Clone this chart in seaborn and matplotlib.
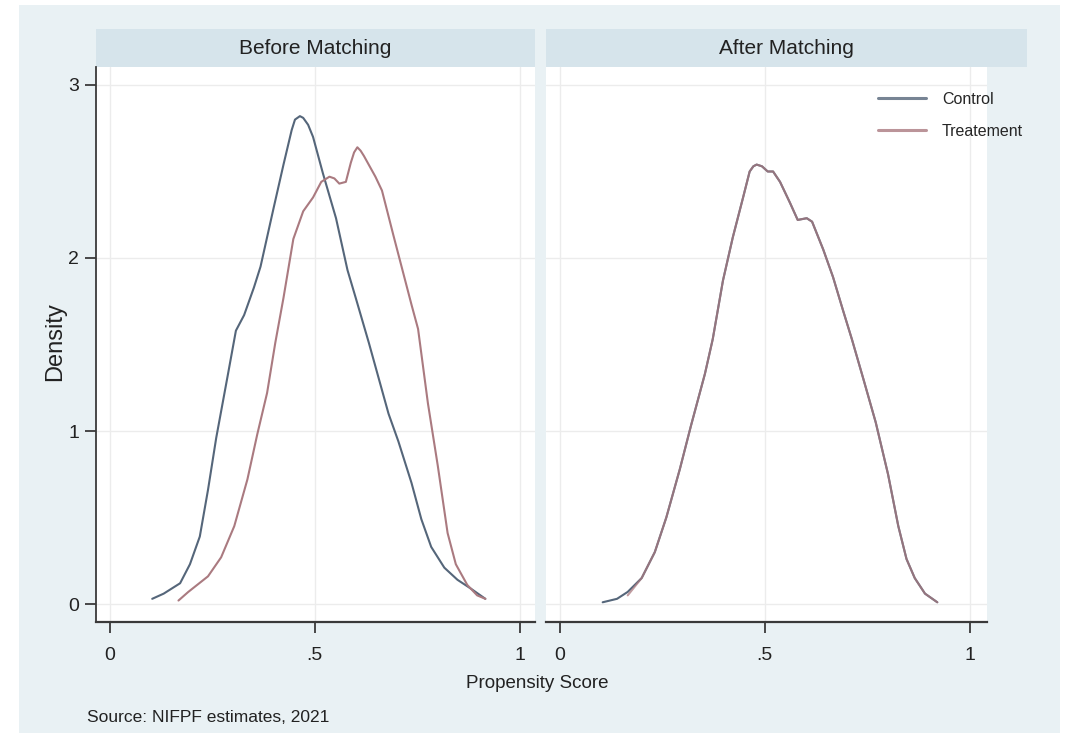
import numpy as np
import pandas as pd
import matplotlib
matplotlib.use("Agg")
import matplotlib.pyplot as plt
import seaborn as sns
from matplotlib.patches import Rectangle

# ---------------- data ----------------
panels = ["Before Matching", "After Matching"]
groups = ["Control", "Treatement"]

before_control_x = [.104, .132, .172, .196, .22, .24, .26, .288, .308, .328, .352, .368, .40, .424,
                    .444, .452, .464, .472, .484, .496, .52, .552, .58, .60, .632, .68, .704, .736,
                    .76, .784, .816, .848, .88, .916]
before_control_y = [.03, .06, .12, .23, .39, .66, .96, 1.32, 1.58, 1.67, 1.83, 1.95, 2.29, 2.54,
                    2.74, 2.80, 2.82, 2.81, 2.77, 2.70, 2.49, 2.23, 1.93, 1.77, 1.51, 1.10, .94, .70,
                    .49, .33, .21, .14, .09, .03]

before_treat_x = [.168, .192, .24, .272, .304, .336, .36, .384, .404, .424, .448, .472, .496, .516,
                  .536, .548, .56, .576, .588, .596, .604, .612, .62, .648, .664, .692, .736, .752,
                  .776, .80, .824, .844, .872, .896, .916]
before_treat_y = [.02, .07, .16, .27, .45, .72, .98, 1.22, 1.51, 1.77, 2.11, 2.27, 2.35, 2.44,
                  2.47, 2.46, 2.43, 2.44, 2.55, 2.61, 2.64, 2.62, 2.59, 2.47, 2.39, 2.13, 1.73, 1.59,
                  1.16, .80, .41, .23, .11, .05, .03]

after_control_x = [.105, .14, .166, .20, .232, .26, .293, .32, .354, .373, .398, .422, .447, .463,
                   .472, .48, .493, .507, .52, .537, .561, .58, .602, .615, .642, .666, .69, .712,
                   .74, .77, .80, .825, .845, .865, .89, .92]
after_control_y = [.01, .03, .07, .15, .30, .50, .78, 1.03, 1.33, 1.53, 1.87, 2.12, 2.35, 2.50,
                   2.53, 2.54, 2.53, 2.50, 2.50, 2.44, 2.32, 2.22, 2.23, 2.21, 2.05, 1.89, 1.70,
                   1.53, 1.30, 1.05, .75, .45, .26, .15, .06, .01]

after_treat_x = [.166, .20, .232, .26, .293, .32, .354, .373, .398, .422, .447, .463,
                 .472, .48, .493, .507, .52, .537, .561, .58, .602, .615, .642, .666, .69, .712,
                 .74, .77, .80, .825, .845, .865, .89, .92]
after_treat_y = [.05, .15, .30, .50, .78, 1.03, 1.33, 1.53, 1.87, 2.12, 2.35, 2.50,
                 2.53, 2.54, 2.53, 2.50, 2.50, 2.44, 2.32, 2.22, 2.23, 2.21, 2.05, 1.89, 1.70,
                 1.53, 1.30, 1.05, .75, .45, .26, .15, .06, .01]

x_ticks = [0, 0.5, 1]
x_tick_labels = ["0", ".5", "1"]
y_ticks = [0, 1, 2, 3]
y_tick_labels = ["0", "1", "2", "3"]

def frame(xs, ys, group, panel):
    return pd.DataFrame({"score": xs, "density": ys, "group": group, "panel": panel})

df = pd.concat([
    frame(before_control_x, before_control_y, groups[0], panels[0]),
    frame(before_treat_x, before_treat_y, groups[1], panels[0]),
    frame(after_control_x, after_control_y, groups[0], panels[1]),
    frame(after_treat_x, after_treat_y, groups[1], panels[1]),
], ignore_index=True)

# ---------------- style ----------------
sns.set_style("white")
plt.rcParams["font.family"] = ["Liberation Sans", "DejaVu Sans"]
plt.rcParams["lines.solid_joinstyle"] = "round"

W, H = 1071, 738
fig = plt.figure(figsize=(W / 100, H / 100), dpi=100, facecolor="white")

BG = "#e9f1f4"
HEADER = "#d6e4eb"
AXCOL = "#3a3a3a"
GRID = "#ececec"
TXT = "#222222"
palette = {"Control": "#55667a", "Treatement": "#aa7a80"}

def px_rect(x0, y0, x1, y1):
    return (x0 / W, 1 - y1 / H, (x1 - x0) / W, (y1 - y0) / H)

# outer background
fig.patches.append(Rectangle((19 / W, 1 - 733 / H), (1060 - 19) / W, (733 - 5) / H,
                             transform=fig.transFigure, facecolor=BG, edgecolor="none",
                             zorder=-10))

# headers
header_boxes = [(96, 29, 535, 67), (546, 29, 1027, 67)]
for (x0, y0, x1, y1), title in zip(header_boxes, panels):
    fig.patches.append(Rectangle((x0 / W, 1 - y1 / H), (x1 - x0) / W, (y1 - y0) / H,
                                 transform=fig.transFigure, facecolor=HEADER,
                                 edgecolor="none", zorder=-5))
    fig.text((x0 + x1) / 2 / W, 1 - (y0 + y1) / 2 / H, title, ha="center", va="center",
             fontsize=15, color=TXT)

ax_boxes = [(96, 67, 535, 622), (546, 67, 987, 622)]
axes = []
for i, ((x0, y0, x1, y1), panel) in enumerate(zip(ax_boxes, panels)):
    ax = fig.add_axes(px_rect(x0, y0, x1, y1))
    ax.set_zorder(5)
    ax.set_facecolor("white")
    sub = df[df["panel"] == panel]
    if panel == "After Matching":
        sns.lineplot(data=sub[sub["group"] == "Control"], x="score", y="density",
                     color=palette["Control"], lw=1.5, ax=ax, sort=False, label="Control")
        sns.lineplot(data=sub[sub["group"] == "Treatement"], x="score", y="density",
                     color=palette["Treatement"], lw=1.5, alpha=0.75, ax=ax, sort=False,
                     label="Treatement")
    else:
        sns.lineplot(data=sub, x="score", y="density", hue="group", palette=palette,
                     lw=1.5, ax=ax, sort=False, legend=False)
    ax.set_xlim(-0.033, 1.037 if i == 0 else 1.041)
    ax.set_ylim(-0.104, 3.104)
    ax.set_xticks(x_ticks)
    ax.set_xticklabels(x_tick_labels)
    ax.set_yticks(y_ticks)
    ax.grid(True, color=GRID, lw=1.0)
    ax.set_axisbelow(True)
    ax.set_xlabel("")
    ax.set_ylabel("")
    for s in ["top", "right"]:
        ax.spines[s].set_visible(False)
    ax.spines["bottom"].set_color(AXCOL)
    ax.spines["bottom"].set_linewidth(1.6)
    ax.tick_params(axis="x", direction="out", length=8, width=1.3, color=AXCOL,
                   labelsize=14, labelcolor=TXT, pad=10, bottom=True)
    if i == 0:
        ax.set_yticklabels(y_tick_labels)
        ax.spines["left"].set_color(AXCOL)
        ax.spines["left"].set_linewidth(1.3)
        ax.tick_params(axis="y", direction="out", length=8, width=1.3, color=AXCOL,
                       labelsize=14, labelcolor=TXT, pad=4, left=True)
    else:
        ax.spines["left"].set_visible(False)
        ax.tick_params(axis="y", left=False, labelleft=False)
    axes.append(ax)

# legend in right panel
leg = axes[1].legend(loc="upper left", bbox_to_anchor=(870 / W, 1 - 84 / H),
                     bbox_transform=fig.transFigure, frameon=False, fontsize=11.5,
                     handlelength=3.0, handletextpad=1.0, labelspacing=1.05, borderpad=0)
for line in leg.get_lines():
    line.set_linewidth(2.2)
    line.set_alpha(0.8)

fig.text(55 / W, 1 - 342 / H, "Density", rotation=90, ha="center", va="center",
         fontsize=17, color=TXT)
fig.text(537 / W, 1 - 683 / H, "Propensity Score", ha="center", va="center",
         fontsize=13.5, color=TXT)
fig.text(87 / W, 1 - 718 / H, "Source: NIFPF estimates, 2021", ha="left", va="center",
         fontsize=12.5, color=TXT)

fig.savefig("out.png", dpi=100, facecolor="white")
